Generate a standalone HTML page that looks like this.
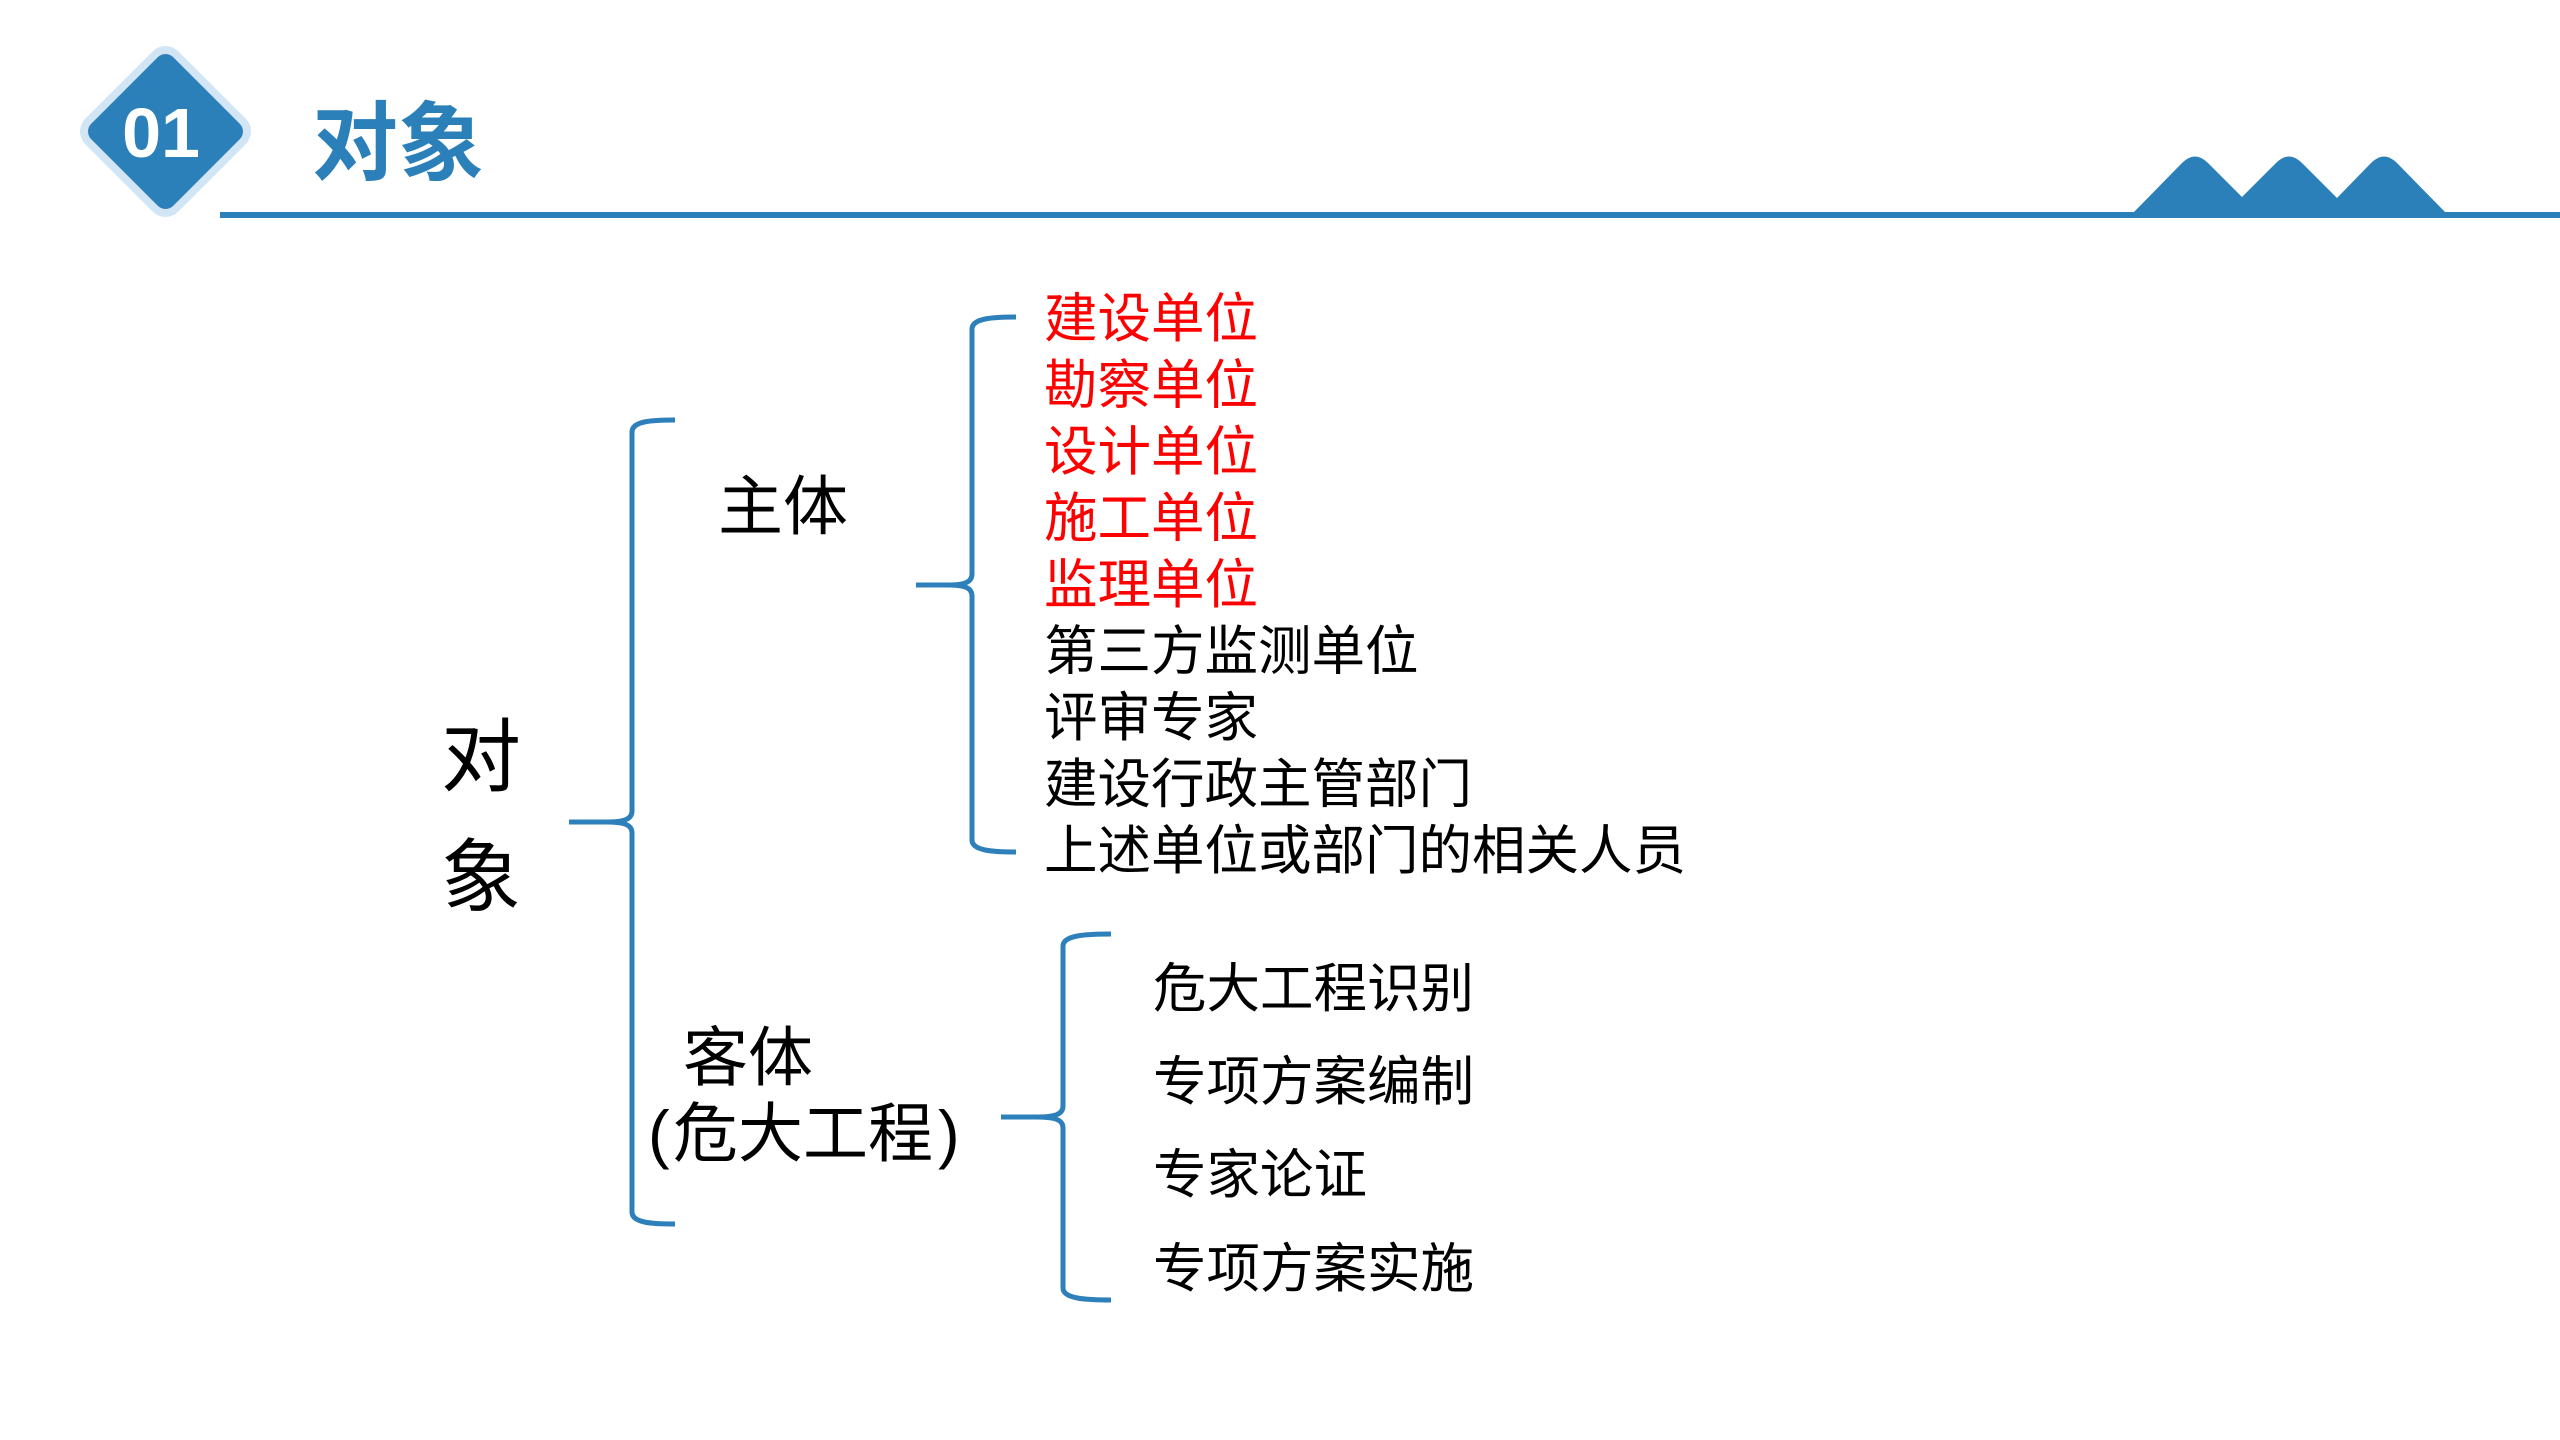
<!DOCTYPE html>
<html>
<head>
<meta charset="utf-8">
<style>
  html, body { margin: 0; padding: 0; background: #ffffff; }
  body { width: 2560px; height: 1440px; overflow: hidden; }
  svg { display: block; }
  .cjk { font-family: "Liberation Sans", "Noto Sans CJK SC", sans-serif; }
</style>
</head>
<body>
<svg width="2560" height="1440" viewBox="0 0 2560 1440" xmlns="http://www.w3.org/2000/svg">
  <rect x="0" y="0" width="2560" height="1440" fill="#ffffff"/>

  <!-- Header diamond -->
  <rect x="99.75" y="65.75" width="131.5" height="131.5" rx="18" ry="18" fill="#d2e5f4" transform="rotate(45 165.5 131.5)"/>
  <rect x="107.5" y="73.5" width="116" height="116" rx="11" ry="11" fill="#2b80b9" transform="rotate(45 165.5 131.5)"/>
  <text x="161" y="157" text-anchor="middle" font-family="Liberation Sans, sans-serif" font-weight="bold" font-size="70" fill="#ffffff">01</text>

  <!-- Title -->
  <text x="312" y="173" class="cjk" font-weight="bold" font-size="86" fill="#2b80b9">对象</text>

  <!-- Header line -->
  <rect x="220" y="212" width="2340" height="6" fill="#2b80b9"/>

  <!-- Mountains -->
  <path d="M2133,213 L2182,163 Q2195,150 2208,163 L2242,197 L2276,163 Q2289,150 2302,163 L2337,198 L2371,163 Q2384,150 2397,163 L2446,213 Z" fill="#2b80b9"/>

  <!-- Braces -->
  <g fill="none" stroke="#2e80bb" stroke-width="5" stroke-linecap="butt" stroke-linejoin="round">
    <!-- Brace 1 -->
    <path d="M675,420 C652,420 632,421 632,432 L632,811 C632,819 625,822 606,822 L569,822"/>
    <path d="M569,822 L606,822 C625,822 632,825 632,833 L632,1212 C632,1223 652,1224 675,1224"/>
    <!-- Brace 2 -->
    <path d="M1016,317 C994,317 972,318 972,329 L972,574 C972,582 965,585 948,585 L916,585"/>
    <path d="M916,585 L948,585 C965,585 972,588 972,596 L972,840 C972,851 994,852 1016,852"/>
    <!-- Brace 3 -->
    <path d="M1111,934 C1087,934 1063,935 1063,946 L1063,1106 C1063,1114 1056,1117 1036,1117 L1001,1117"/>
    <path d="M1001,1117 L1036,1117 C1056,1117 1063,1120 1063,1128 L1063,1288 C1063,1299 1087,1300 1111,1300"/>
  </g>

  <!-- Left vertical label -->
  <text x="481" y="785" text-anchor="middle" class="cjk" font-size="80" fill="#000000">对</text>
  <text x="481" y="905" text-anchor="middle" class="cjk" font-size="80" fill="#000000">象</text>

  <!-- Middle labels -->
  <text x="718" y="529" class="cjk" font-size="65" fill="#000000">主体</text>
  <text x="683" y="1080" class="cjk" font-size="65" fill="#000000">客体</text>
  <text x="648" y="1156" font-family="Liberation Sans, sans-serif" font-size="65" fill="#000000">(</text>
  <text x="673" y="1156" class="cjk" font-size="65" fill="#000000">危大工程</text>
  <text x="938" y="1156" font-family="Liberation Sans, sans-serif" font-size="65" fill="#000000">)</text>

  <!-- Subject list -->
  <g class="cjk" font-size="53.5">
    <text x="1044" y="337" fill="#ff0000">建设单位</text>
    <text x="1044" y="403.5" fill="#ff0000">勘察单位</text>
    <text x="1044" y="470" fill="#ff0000">设计单位</text>
    <text x="1044" y="536.5" fill="#ff0000">施工单位</text>
    <text x="1044" y="603" fill="#ff0000">监理单位</text>
    <text x="1044" y="669.5" fill="#000000">第三方监测单位</text>
    <text x="1044" y="736" fill="#000000">评审专家</text>
    <text x="1044" y="802.5" fill="#000000">建设行政主管部门</text>
    <text x="1044" y="869" fill="#000000">上述单位或部门的相关人员</text>
  </g>

  <!-- Object list -->
  <g class="cjk" font-size="53.5" fill="#000000">
    <text x="1153" y="1007">危大工程识别</text>
    <text x="1153" y="1100">专项方案编制</text>
    <text x="1153" y="1193">专家论证</text>
    <text x="1153" y="1287">专项方案实施</text>
  </g>
</svg>
</body>
</html>
